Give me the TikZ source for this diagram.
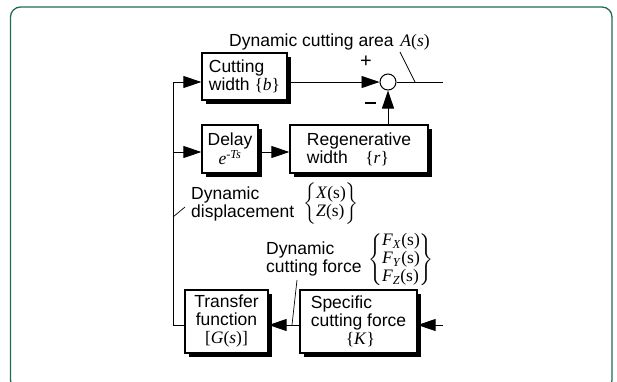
\RequirePackage{fix-cm}
\documentclass[tikz,border=0pt]{standalone}
\usepackage{amsmath}
\usepackage{fontspec}
\setmainfont{Liberation Sans}
\newfontfamily\tm{Liberation Serif}
\usetikzlibrary{arrows.meta,positioning,calc,shadows}
\definecolor{frameteal}{HTML}{1F6A5A}
\tikzset{
  blockbox/.style={draw, line width=1.3pt, fill=white, inner sep=2pt, align=left,
    drop shadow={shadow xshift=3.5pt, shadow yshift=-3.5pt, fill=black, opacity=1}},
  sig/.style={line width=0.9pt},
  sigarrow/.style={sig, -{Triangle[length=18pt,width=12pt]}},
  lbl/.style={inner sep=0pt, align=left},
  lead/.style={line width=0.7pt},
}

\begin{document}
\begin{tikzpicture}[x=1pt, y=-1pt, font=\fontsize{17.5}{18}\selectfont]
  \useasboundingbox (0,0) rectangle (617,381);
  % frame
  \draw[frameteal, line width=1.3pt, rounded corners=10pt] (10.5,7) rectangle (612,390);

  \begin{scope}
    \clip (0,0) rectangle (443,381);
    % blocks
    \node[blockbox, minimum width=85pt, minimum height=47pt] (cut) at (244.5,76.5)
      {Cutting\\width {\tm\{\textit{b}\}}};
    \node[blockbox, minimum width=56pt, minimum height=48pt, align=center] (delay) at (230,149)
      {Delay\\{\tm\textit{e}\textsuperscript{-\textit{Ts}}}};
    \node[blockbox, minimum width=138pt, minimum height=48pt] (regen) at (359,149)
      {Regenerative\\width\hspace{1em}{\tm\{\textit{r}\}}};
    \node[blockbox, minimum width=83pt, minimum height=63pt, align=center] (transfer) at (226.5,321.5)
      {Transfer\\function\\{\tm[\textit{G}(\textit{s})]}};
    \node[blockbox, minimum width=117pt, minimum height=63pt] (force) at (358.5,321.5)
      {Specific\\cutting force\\\hspace*{2em}{\tm\{\textit{K}\}}};
    \node[circle, draw, line width=1pt, minimum size=16pt, inner sep=0pt, fill=white] (sum) at (388,82) {};
    \node[font=\fontsize{20}{20}\selectfont] (plus) at (366,62) {+};
    \node[inner sep=0pt] (minus) at (370,103) {\rule{11pt}{2pt}};

    % loop
    \coordinate (fbtop) at (173,82);
    \coordinate (fbmid) at (173,152);
    \coordinate (fbbot) at (173,325);
    \coordinate (outtop) at (443,82);
    \coordinate (inbot) at (443,325);
    \draw[sig] (fbbot -| transfer.west) -- (fbbot) -- (fbtop);
    \draw[sigarrow] (fbtop) -- (fbtop -| cut.west);
    \draw[sigarrow] (fbmid) -- (fbmid -| delay.west);
    \draw[sigarrow] (fbmid -| delay.east) -- (fbmid -| regen.west);
    \draw[sigarrow] (fbtop -| cut.east) -- (sum.west);
    \draw[sigarrow] (regen.north -| sum) -- (sum.south);
    \draw[sig] (sum.east) -- (outtop);
    \draw[sigarrow] (inbot) -- (inbot -| force.east);
    \draw[sigarrow] (inbot -| force.west) -- (inbot -| transfer.east);

    % labels
    \node[lbl, anchor=west] (arealbl) at (229,42)
      {Dynamic cutting area\hspace{2pt} {\tm\textit{A}(\textit{s})}};
    \node[lbl, anchor=west] (displbl) at (191,203.5) {Dynamic\\displacement};
    \node[lbl] (dispvec) at (331,203.5)
      {$\left\{\begin{array}{@{}l@{}}\mbox{\tm\textit{X}(s)}\\\mbox{\tm\textit{Z}(s)}\end{array}\right\}$};
    \node[lbl, anchor=west] (forcelbl) at (266,258.5) {Dynamic\\cutting force};
    \node[lbl] (forcevec) at (401,260)
      {$\left\{\begin{array}{@{}l@{}}\mbox{\tm\textit{F}\textsubscript{\textit{X}}(s)}\\
        \mbox{\tm\textit{F}\textsubscript{\textit{Y}}(s)}\\
        \mbox{\tm\textit{F}\textsubscript{\textit{Z}}(s)}\end{array}\right\}$};

    % leader lines
    \coordinate (arealead) at (400,52);
    \coordinate (areatap) at (415,82);
    \coordinate (displead) at (185,207);
    \coordinate (disptap) at (173,217);
    \coordinate (forcelead) at (297,280);
    \coordinate (forcetap) at (292,325);
    \draw[lead] (arealead) -- (areatap);
    \draw[lead] (displead) -- (disptap);
    \draw[lead] (forcelead) -- (forcetap);
  \end{scope}
\end{tikzpicture}
\end{document}
